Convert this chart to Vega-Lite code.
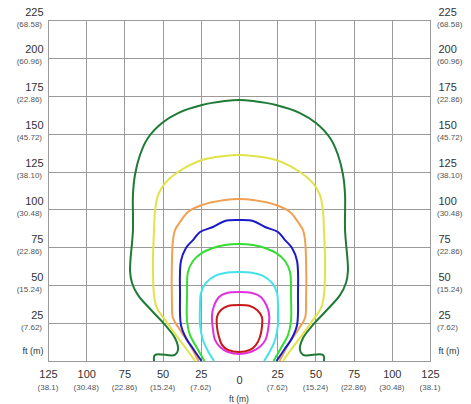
{
"$schema": "https://vega.github.io/schema/vega-lite/v6.json",
"width": 382, "height": 341,
"autosize": {"type": "none"},
"padding": {"left": 48, "top": 20, "right": 41, "bottom": 43},
"background": "white",
"config": {"view": {"stroke": "#7a7a7a", "strokeWidth": 1}, "font": "Liberation Sans"},
"datasets": {
"open": [
{"s":"g1","i":0,"x":55.6,"y":0},{"s":"g1","i":1,"x":55.0,"y":4.0},{"s":"g1","i":2,"x":41.9,"y":4.0},{"s":"g1","i":3,"x":39.9,"y":7.3},{"s":"g1","i":4,"x":41.9,"y":15.2},{"s":"g1","i":5,"x":48.4,"y":23.8},{"s":"g1","i":6,"x":56.9,"y":33.0},{"s":"g1","i":7,"x":66.1,"y":43.5},{"s":"g1","i":8,"x":70.0,"y":51.5},{"s":"g1","i":9,"x":71.3,"y":59.4},{"s":"g1","i":10,"x":69.4,"y":86.4},{"s":"g1","i":11,"x":69.4,"y":109.5},{"s":"g1","i":12,"x":68.1,"y":122.7},{"s":"g1","i":13,"x":64.8,"y":135.9},{"s":"g1","i":14,"x":59.6,"y":147.1},{"s":"g1","i":15,"x":50.4,"y":157.0},{"s":"g1","i":16,"x":39.9,"y":163.6},{"s":"g1","i":17,"x":24.2,"y":168.9},{"s":"g1","i":18,"x":9.2,"y":171.5},{"s":"g1","i":19,"x":0,"y":172.2},{"s":"g1","i":20,"x":-9.2,"y":171.5},{"s":"g1","i":21,"x":-24.2,"y":168.9},{"s":"g1","i":22,"x":-39.9,"y":163.6},{"s":"g1","i":23,"x":-50.4,"y":157.0},{"s":"g1","i":24,"x":-59.6,"y":147.1},{"s":"g1","i":25,"x":-64.8,"y":135.9},{"s":"g1","i":26,"x":-68.1,"y":122.7},{"s":"g1","i":27,"x":-69.4,"y":109.5},{"s":"g1","i":28,"x":-69.4,"y":86.4},{"s":"g1","i":29,"x":-71.3,"y":59.4},{"s":"g1","i":30,"x":-70.0,"y":51.5},{"s":"g1","i":31,"x":-66.1,"y":43.5},{"s":"g1","i":32,"x":-56.9,"y":33.0},{"s":"g1","i":33,"x":-48.4,"y":23.8},{"s":"g1","i":34,"x":-41.9,"y":15.2},{"s":"g1","i":35,"x":-39.9,"y":7.3},{"s":"g1","i":36,"x":-41.9,"y":4.0},{"s":"g1","i":37,"x":-55.0,"y":4.0},{"s":"g1","i":38,"x":-55.6,"y":0},
{"s":"yl","i":0,"x":28.8,"y":0},{"s":"yl","i":1,"x":33.4,"y":6.6},{"s":"yl","i":2,"x":39.9,"y":15.2},{"s":"yl","i":3,"x":48.4,"y":27.1},{"s":"yl","i":4,"x":53.7,"y":35.0},{"s":"yl","i":5,"x":55.6,"y":43.5},{"s":"yl","i":6,"x":56.3,"y":66.0},{"s":"yl","i":7,"x":55.6,"y":86.4},{"s":"yl","i":8,"x":55.0,"y":98.3},{"s":"yl","i":9,"x":53.0,"y":109.5},{"s":"yl","i":10,"x":48.4,"y":117.4},{"s":"yl","i":11,"x":39.9,"y":124.7},{"s":"yl","i":12,"x":24.2,"y":132.6},{"s":"yl","i":13,"x":9.2,"y":135.3},{"s":"yl","i":14,"x":0,"y":135.9},{"s":"yl","i":15,"x":-9.2,"y":135.3},{"s":"yl","i":16,"x":-24.2,"y":132.6},{"s":"yl","i":17,"x":-39.9,"y":124.7},{"s":"yl","i":18,"x":-48.4,"y":117.4},{"s":"yl","i":19,"x":-53.0,"y":109.5},{"s":"yl","i":20,"x":-55.0,"y":98.3},{"s":"yl","i":21,"x":-55.6,"y":86.4},{"s":"yl","i":22,"x":-56.3,"y":66.0},{"s":"yl","i":23,"x":-55.6,"y":43.5},{"s":"yl","i":24,"x":-53.7,"y":35.0},{"s":"yl","i":25,"x":-48.4,"y":27.1},{"s":"yl","i":26,"x":-39.9,"y":15.2},{"s":"yl","i":27,"x":-33.4,"y":6.6},{"s":"yl","i":28,"x":-28.8,"y":0},
{"s":"or","i":0,"x":26.5,"y":0},{"s":"or","i":1,"x":32.1,"y":10.6},{"s":"or","i":2,"x":38.6,"y":20.5},{"s":"or","i":3,"x":43.2,"y":28.4},{"s":"or","i":4,"x":43.9,"y":40.2},{"s":"or","i":5,"x":43.9,"y":66.0},{"s":"or","i":6,"x":43.2,"y":79.8},{"s":"or","i":7,"x":41.9,"y":86.4},{"s":"or","i":8,"x":38.6,"y":91.7},{"s":"or","i":9,"x":33.4,"y":98.3},{"s":"or","i":10,"x":24.2,"y":102.9},{"s":"or","i":11,"x":9.2,"y":106.2},{"s":"or","i":12,"x":0,"y":106.9},{"s":"or","i":13,"x":-9.2,"y":106.2},{"s":"or","i":14,"x":-24.2,"y":102.9},{"s":"or","i":15,"x":-33.4,"y":98.3},{"s":"or","i":16,"x":-38.6,"y":91.7},{"s":"or","i":17,"x":-41.9,"y":86.4},{"s":"or","i":18,"x":-43.2,"y":79.8},{"s":"or","i":19,"x":-43.9,"y":66.0},{"s":"or","i":20,"x":-43.9,"y":40.2},{"s":"or","i":21,"x":-43.2,"y":28.4},{"s":"or","i":22,"x":-38.6,"y":20.5},{"s":"or","i":23,"x":-32.1,"y":10.6},{"s":"or","i":24,"x":-26.5,"y":0},
{"s":"bl","i":0,"x":24.5,"y":0},{"s":"bl","i":1,"x":29.5,"y":7.3},{"s":"bl","i":2,"x":34.7,"y":15.2},{"s":"bl","i":3,"x":38.0,"y":23.8},{"s":"bl","i":4,"x":38.6,"y":43.5},{"s":"bl","i":5,"x":38.0,"y":66.0},{"s":"bl","i":6,"x":34.7,"y":74.6},{"s":"bl","i":7,"x":30.1,"y":79.8},{"s":"bl","i":8,"x":25.5,"y":85.1},{"s":"bl","i":9,"x":17.0,"y":88.4},{"s":"bl","i":10,"x":9.2,"y":92.4},{"s":"bl","i":11,"x":0,"y":93.0},{"s":"bl","i":12,"x":-9.2,"y":92.4},{"s":"bl","i":13,"x":-17.0,"y":88.4},{"s":"bl","i":14,"x":-25.5,"y":85.1},{"s":"bl","i":15,"x":-30.1,"y":79.8},{"s":"bl","i":16,"x":-34.7,"y":74.6},{"s":"bl","i":17,"x":-38.0,"y":66.0},{"s":"bl","i":18,"x":-38.6,"y":43.5},{"s":"bl","i":19,"x":-38.0,"y":23.8},{"s":"bl","i":20,"x":-34.7,"y":15.2},{"s":"bl","i":21,"x":-29.5,"y":7.3},{"s":"bl","i":22,"x":-24.5,"y":0},
{"s":"gr","i":0,"x":22.6,"y":0},{"s":"gr","i":1,"x":27.5,"y":8.6},{"s":"gr","i":2,"x":32.1,"y":17.2},{"s":"gr","i":3,"x":34.0,"y":26.4},{"s":"gr","i":4,"x":34.0,"y":43.5},{"s":"gr","i":5,"x":33.4,"y":58.7},{"s":"gr","i":6,"x":30.1,"y":66.0},{"s":"gr","i":7,"x":24.2,"y":71.3},{"s":"gr","i":8,"x":17.0,"y":74.6},{"s":"gr","i":9,"x":9.2,"y":76.5},{"s":"gr","i":10,"x":0,"y":77.2},{"s":"gr","i":11,"x":-9.2,"y":76.5},{"s":"gr","i":12,"x":-17.0,"y":74.6},{"s":"gr","i":13,"x":-24.2,"y":71.3},{"s":"gr","i":14,"x":-30.1,"y":66.0},{"s":"gr","i":15,"x":-33.4,"y":58.7},{"s":"gr","i":16,"x":-34.0,"y":43.5},{"s":"gr","i":17,"x":-34.0,"y":26.4},{"s":"gr","i":18,"x":-32.1,"y":17.2},{"s":"gr","i":19,"x":-27.5,"y":8.6},{"s":"gr","i":20,"x":-22.6,"y":0},
{"s":"cy","i":0,"x":16.4,"y":0},{"s":"cy","i":1,"x":20.3,"y":6.6},{"s":"cy","i":2,"x":23.6,"y":13.9},{"s":"cy","i":3,"x":25.5,"y":23.8},{"s":"cy","i":4,"x":25.5,"y":36.9},{"s":"cy","i":5,"x":24.9,"y":44.9},{"s":"cy","i":6,"x":21.6,"y":51.5},{"s":"cy","i":7,"x":15.7,"y":56.1},{"s":"cy","i":8,"x":9.2,"y":58.1},{"s":"cy","i":9,"x":0,"y":58.7},{"s":"cy","i":10,"x":-9.2,"y":58.1},{"s":"cy","i":11,"x":-15.7,"y":56.1},{"s":"cy","i":12,"x":-21.6,"y":51.5},{"s":"cy","i":13,"x":-24.9,"y":44.9},{"s":"cy","i":14,"x":-25.5,"y":36.9},{"s":"cy","i":15,"x":-25.5,"y":23.8},{"s":"cy","i":16,"x":-23.6,"y":13.9},{"s":"cy","i":17,"x":-20.3,"y":6.6},{"s":"cy","i":18,"x":-16.4,"y":0}
],
"closed": [
{"s":"mg","i":0,"x":0,"y":45.5},{"s":"mg","i":1,"x":-7.9,"y":44.9},{"s":"mg","i":2,"x":-13.1,"y":42.2},{"s":"mg","i":3,"x":-16.4,"y":36.3},{"s":"mg","i":4,"x":-17.7,"y":29.7},{"s":"mg","i":5,"x":-17.0,"y":20.5},{"s":"mg","i":6,"x":-15.7,"y":13.9},{"s":"mg","i":7,"x":-12.4,"y":9.2},{"s":"mg","i":8,"x":-7.2,"y":5.9},{"s":"mg","i":9,"x":0,"y":4.6},{"s":"mg","i":10,"x":7.5,"y":5.9},{"s":"mg","i":11,"x":13.5,"y":9.2},{"s":"mg","i":12,"x":17.3,"y":13.9},{"s":"mg","i":13,"x":19.0,"y":20.5},{"s":"mg","i":14,"x":19.8,"y":29.7},{"s":"mg","i":15,"x":18.2,"y":36.3},{"s":"mg","i":16,"x":14.3,"y":42.2},{"s":"mg","i":17,"x":8.5,"y":44.9},
{"s":"rd","i":0,"x":0,"y":36.9},{"s":"rd","i":1,"x":-7.2,"y":36.3},{"s":"rd","i":2,"x":-11.8,"y":33.6},{"s":"rd","i":3,"x":-14.4,"y":29.0},{"s":"rd","i":4,"x":-14.4,"y":22.4},{"s":"rd","i":5,"x":-13.1,"y":15.8},{"s":"rd","i":6,"x":-11.1,"y":10.6},{"s":"rd","i":7,"x":-7.2,"y":7.3},{"s":"rd","i":8,"x":0,"y":5.9},{"s":"rd","i":9,"x":7.2,"y":7.3},{"s":"rd","i":10,"x":11.1,"y":10.6},{"s":"rd","i":11,"x":13.7,"y":15.8},{"s":"rd","i":12,"x":15.0,"y":22.4},{"s":"rd","i":13,"x":15.0,"y":29.0},{"s":"rd","i":14,"x":11.8,"y":33.6},{"s":"rd","i":15,"x":7.2,"y":36.3}
],
"ylab": [{"v":25,"m":"(7.62)"},{"v":50,"m":"(15.24)"},{"v":75,"m":"(22.86)"},{"v":100,"m":"(30.48)"},{"v":125,"m":"(38.10)"},{"v":150,"m":"(45.72)"},{"v":175,"m":"(22.86)"},{"v":200,"m":"(60.96)"},{"v":225,"m":"(68.58)"}],
"xlab": [{"v":-125,"m":"(38.1)"},{"v":-100,"m":"(30.48)"},{"v":-75,"m":"(22.86)"},{"v":-50,"m":"(15.24)"},{"v":-25,"m":"(7.62)"},{"v":25,"m":"(7.62)"},{"v":50,"m":"(15.24)"},{"v":75,"m":"(22.86)"},{"v":100,"m":"(30.48)"},{"v":125,"m":"(38.1)"}],
"unit": [{"t":"ft (m)"}]
},
"resolve": {"axis": {"x": "independent", "y": "independent"}},
"layer": [
{"data": {"name": "open"},
 "mark": {"type": "line", "interpolate": "catmull-rom", "strokeWidth": 2},
 "encoding": {
  "x": {"field": "x", "type": "quantitative", "scale": {"domain": [-125, 125], "nice": false, "zero": false},
   "axis": {"orient": "bottom", "title": null, "values": [-125,-100,-75,-50,-25,0,25,50,75,100,125], "grid": true, "gridColor": "#9a9a9a", "gridWidth": 1, "domain": false, "ticks": false,
    "labelExpr": "format(abs(datum.value), 'd')", "labelFont": "Liberation Sans", "labelFontSize": 11, "labelColor": "#333333", "labelFlush": false, "labelOverlap": false, "labelBound": false,
    "labelPadding": {"condition": {"test": "datum.value === 0", "value": 13}, "value": 7}}},
  "y": {"field": "y", "type": "quantitative", "scale": {"domain": [0, 225], "nice": false},
   "axis": {"orient": "left", "title": null, "values": [0,25,50,75,100,125,150,175,200,225], "grid": true, "gridColor": "#9a9a9a", "gridWidth": 1, "domain": false, "ticks": false,
    "labelExpr": "datum.value === 0 ? 'ft (m)' : datum.label", "labelFont": "Liberation Sans", "labelColor": "#333333", "labelFlush": false, "labelOverlap": false, "labelBound": false, "labelBaseline": "middle", "labelPadding": 5,
    "labelFontSize": {"condition": {"test": "datum.value === 0", "value": 9}, "value": 11},
    "labelOffset": {"condition": {"test": "datum.value === 0", "value": -11}, "value": -8}}},
  "color": {"field": "s", "type": "nominal", "legend": null,
   "scale": {"domain": ["g1","yl","or","bl","gr","cy","mg","rd"], "range": ["#1f7a35","#e2e24a","#f0a050","#1a1ac8","#33dd33","#44e2ea","#e030e0","#c81818"]}},
  "order": {"field": "i", "type": "quantitative"}
 }},
{"data": {"name": "closed"},
 "mark": {"type": "line", "interpolate": "cardinal-closed", "strokeWidth": 2},
 "encoding": {
  "x": {"field": "x", "type": "quantitative", "axis": null},
  "y": {"field": "y", "type": "quantitative", "axis": null},
  "color": {"field": "s", "type": "nominal", "legend": null},
  "order": {"field": "i", "type": "quantitative"}
 }},
{"data": {"name": "ylab"},
 "mark": {"type": "text", "align": "right", "baseline": "middle", "dx": -6, "dy": 4.5, "fontSize": 8, "font": "Liberation Sans", "color": "#555555"},
 "encoding": {
  "x": {"datum": -125, "type": "quantitative", "axis": null},
  "y": {"field": "v", "type": "quantitative", "axis": null},
  "text": {"field": "m"}
 }},
{"data": {"name": "ylab"},
 "mark": {"type": "text", "align": "left", "baseline": "middle", "dx": 7, "dy": 4.5, "fontSize": 8, "font": "Liberation Sans", "color": "#555555"},
 "encoding": {
  "x": {"datum": 125, "type": "quantitative", "axis": null},
  "y": {"field": "v", "type": "quantitative",
   "axis": {"orient": "right", "title": null, "values": [0,25,50,75,100,125,150,175,200,225], "grid": false, "domain": false, "ticks": false,
    "labelExpr": "datum.value === 0 ? 'ft (m)' : datum.label", "labelFont": "Liberation Sans", "labelColor": "#333333", "labelFlush": false, "labelOverlap": false, "labelBound": false, "labelBaseline": "middle", "labelPadding": 8,
    "labelFontSize": {"condition": {"test": "datum.value === 0", "value": 9}, "value": 11},
    "labelOffset": {"condition": {"test": "datum.value === 0", "value": -11}, "value": -8}}},
  "text": {"field": "m"}
 }},
{"data": {"name": "xlab"},
 "mark": {"type": "text", "align": "center", "baseline": "middle", "dy": 27, "fontSize": 8, "font": "Liberation Sans", "color": "#555555"},
 "encoding": {
  "x": {"field": "v", "type": "quantitative", "axis": null},
  "y": {"datum": 0, "type": "quantitative", "axis": null},
  "text": {"field": "m"}
 }},
{"data": {"name": "unit"},
 "mark": {"type": "text", "align": "center", "baseline": "middle", "dy": 38, "fontSize": 8.5, "font": "Liberation Sans", "color": "#333333"},
 "encoding": {
  "x": {"datum": 0, "type": "quantitative", "axis": null},
  "y": {"datum": 0, "type": "quantitative", "axis": null},
  "text": {"field": "t"}
 }}
]
}
